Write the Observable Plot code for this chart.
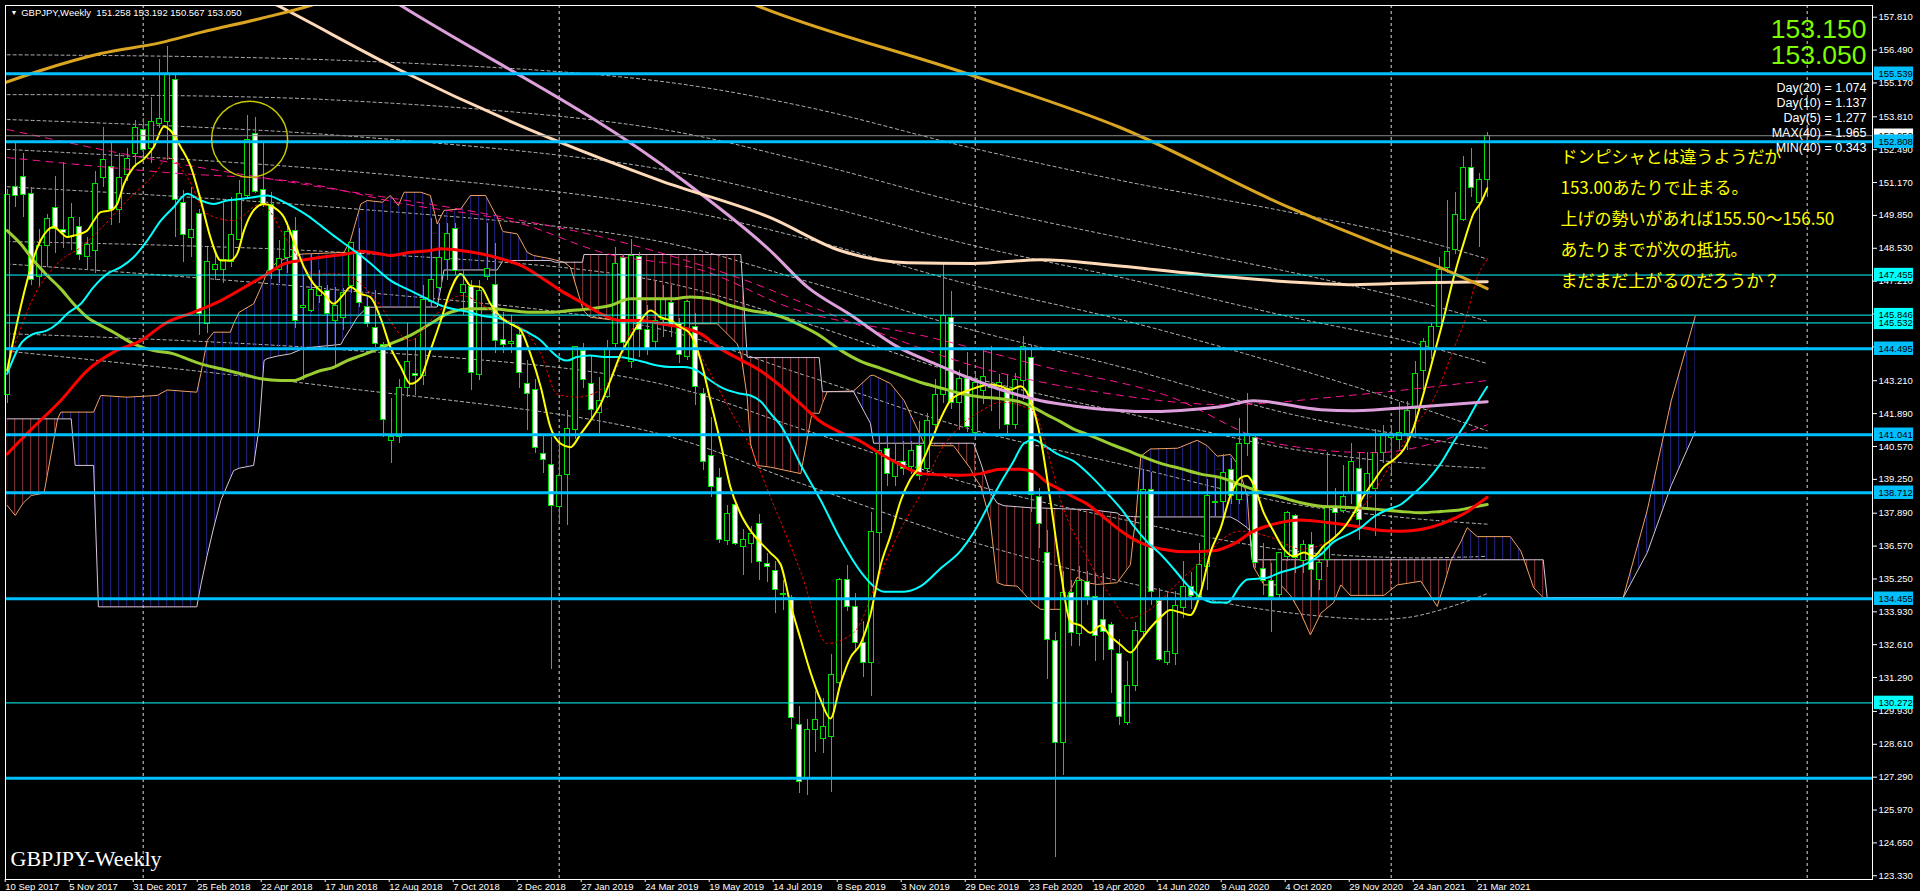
<!DOCTYPE html>
<html><head><meta charset="utf-8">
<script src="https://cdn.jsdelivr.net/npm/d3@7"></script>
<script src="https://cdn.jsdelivr.net/npm/@observablehq/plot@0.6"></script>
<style>html,body{margin:0;padding:0;background:#000;overflow:hidden}</style>
</head><body><div id="chart"></div>
<script>
// ---------- DATA (weekly GBPJPY, bar index 0 = week of 10 Sep 2017) ----------
const opens = [142.62,151.01,151.41,150.69,147.37,148.61,150.15,149.27,148.98,149.38,
148.17,148.41,151.36,151.81,150.05,151.49,152.32,153.26,152.50,153.53,
153.59,155.29,150.35,148.95,149.89,145.47,147.64,147.64,147.97,148.88,
150.62,153.12,150.88,150.25,147.66,148.15,149.22,146.15,146.00,146.62,
146.81,145.60,145.74,147.01,148.37,146.16,145.34,144.63,140.78,140.94,
142.93,143.50,143.42,146.37,146.94,148.07,149.31,146.74,146.99,143.46,
147.37,147.06,144.85,144.70,145.05,143.09,142.85,140.27,139.83,138.13,
139.43,141.24,144.40,143.09,141.91,142.55,144.67,148.15,143.96,148.17,
145.25,144.76,145.66,146.33,145.47,144.16,145.36,142.66,140.20,139.31,
136.77,138.20,136.53,136.66,137.46,135.85,135.58,134.65,134.50,129.39,
127.21,129.19,128.82,128.91,131.08,135.22,134.13,132.69,131.87,137.11,
140.48,139.33,139.95,139.76,140.58,139.66,141.44,142.63,145.74,142.30,
143.27,141.13,142.78,143.03,142.85,142.87,141.44,143.20,144.14,138.54,
136.28,132.74,128.68,134.67,133.02,135.13,134.53,133.60,133.41,132.23,
129.48,130.97,133.10,138.82,134.37,131.89,132.22,134.08,134.94,134.52,
135.73,138.30,138.34,139.63,138.43,140.68,140.93,135.66,135.16,134.61,
136.13,137.77,135.99,136.62,135.19,136.02,138.10,137.99,138.74,139.68,
138.74,138.88,140.32,140.92,140.82,141.07,142.07,143.62,144.51,145.37,
147.75,148.47,149.67,151.75,150.36,151.258];
const highs = [150.90,152.79,152.32,150.98,149.27,149.89,151.41,151.99,150.31,149.78,
148.98,151.60,153.39,152.72,152.32,152.52,153.66,153.73,154.60,156.11,
156.65,155.54,150.85,150.98,150.07,148.57,148.31,150.31,150.58,151.25,
153.86,153.77,152.72,150.78,148.84,149.58,149.78,147.44,148.31,147.64,
147.04,146.97,146.90,148.77,149.31,146.57,146.83,144.76,142.48,143.25,
145.50,144.89,147.03,149.71,149.51,149.51,149.54,147.64,147.24,147.24,
149.51,148.71,145.96,145.83,145.30,144.02,143.25,140.97,140.94,140.94,
142.02,144.59,144.69,144.22,143.35,144.83,148.58,148.30,148.87,148.37,
146.23,147.24,147.03,147.03,145.70,146.43,145.90,142.89,141.75,139.67,
138.20,138.20,137.22,137.36,137.82,136.29,135.96,135.20,134.60,130.11,
129.61,130.73,130.44,132.20,135.25,135.79,134.67,133.55,137.90,140.98,
140.98,140.70,140.77,140.77,141.58,141.90,143.25,147.94,146.79,143.63,
144.35,143.56,144.45,144.60,143.45,143.42,143.49,145.00,144.64,138.90,
137.18,133.10,135.53,135.17,135.74,135.53,135.46,135.46,133.52,132.80,
131.95,133.52,139.60,139.53,134.87,134.76,134.73,135.95,135.52,136.66,
139.25,139.32,140.25,140.10,141.68,142.69,141.01,136.66,135.88,136.31,
137.96,137.85,136.81,137.10,136.05,140.32,138.90,139.82,140.68,140.32,
140.32,141.25,141.40,141.32,142.33,142.36,143.98,144.91,145.51,148.14,
150.43,150.79,152.23,152.54,151.54,153.192];
const lows = [142.30,150.18,149.78,147.04,146.97,147.77,148.31,148.53,148.44,148.04,
147.64,147.50,150.98,149.44,149.54,151.20,151.79,152.26,151.92,153.33,
152.05,148.98,147.97,148.17,145.03,145.09,147.24,147.10,147.77,148.84,
150.58,150.72,150.18,147.26,147.10,147.50,145.29,143.22,145.96,146.30,
144.42,143.75,145.23,146.70,146.16,145.34,144.56,140.94,139.90,140.68,
142.55,142.62,143.02,146.16,146.84,147.24,147.44,145.83,142.82,143.22,
147.24,144.29,144.29,144.30,142.89,141.21,140.27,139.47,131.60,137.46,
137.40,140.84,142.89,141.61,141.08,142.48,144.56,144.56,143.69,144.16,
144.22,144.42,144.96,144.96,143.89,144.02,142.22,139.60,138.54,136.66,
136.59,136.59,135.39,135.86,135.19,135.10,133.88,134.00,129.22,126.64,
126.57,128.29,128.25,126.67,130.83,133.93,132.35,131.30,130.51,135.53,
138.95,138.95,139.40,139.43,139.19,139.48,141.27,142.30,142.06,141.20,
141.13,140.91,142.27,141.96,141.27,140.98,141.27,142.42,137.90,136.46,
131.23,124.05,127.36,132.52,132.52,134.20,131.95,131.98,130.66,129.37,
129.37,130.73,132.90,134.17,131.93,131.79,131.79,133.65,134.04,134.37,
134.80,137.74,137.77,138.24,138.24,140.18,135.66,134.58,133.08,134.44,
135.95,135.45,135.47,134.51,134.80,135.73,136.90,137.88,138.24,136.81,
138.03,136.95,139.89,139.46,140.39,140.39,141.04,142.83,144.05,145.34,
147.52,148.28,149.61,150.58,148.57,150.567];
const closes = [150.65,150.64,150.68,147.24,148.64,149.71,149.31,149.15,149.75,148.27,
148.68,151.12,152.09,150.05,151.36,152.12,153.37,152.48,153.59,153.73,
155.54,150.47,149.08,149.27,145.90,147.97,147.84,148.04,149.08,150.72,
152.86,150.78,150.31,147.61,148.11,149.19,145.60,146.22,146.86,146.99,
145.90,146.23,146.74,148.73,146.34,145.47,144.69,141.64,140.97,142.93,
143.96,143.42,146.46,147.26,148.15,149.11,147.61,147.06,143.51,146.83,
147.70,144.80,144.65,144.76,143.53,142.68,140.52,140.03,138.16,139.40,
141.28,144.56,143.22,142.04,142.39,144.49,147.91,144.72,148.20,145.23,
144.43,145.60,146.47,145.39,144.26,146.37,142.95,139.94,138.94,136.82,
137.84,136.66,136.82,137.06,135.95,135.72,134.79,134.60,129.68,127.10,
129.19,129.58,129.29,131.40,135.22,134.13,132.69,131.87,137.14,140.38,
139.48,139.95,139.66,140.38,139.40,141.58,142.63,145.82,142.30,143.30,
141.34,143.10,143.35,142.92,143.10,141.44,143.25,144.57,138.62,137.47,
132.78,128.65,134.67,133.09,135.17,134.53,132.95,133.10,132.40,129.72,
130.94,133.17,138.82,134.73,132.00,132.32,134.15,134.94,134.56,135.80,
138.59,138.35,139.49,138.57,140.68,141.07,135.88,135.16,134.51,136.28,
137.88,136.09,136.62,135.59,135.90,138.10,137.90,138.53,139.96,137.63,
139.46,140.32,141.07,141.04,141.11,142.01,143.50,144.77,145.37,147.64,
148.38,149.86,151.75,150.96,151.27,153.050];

// Moving averages: [bar index, price]
const maYellow = [[0,143.62],[1.67,146.16],[2.5,147.24],[3.33,148.17],[4.17,148.84],[5,149.24],[5.83,149.38],[6.67,149.18],[7.5,148.98],[8.33,149.04],[10,149.24],[10.83,149.64],[11.67,149.98],[12.9,150.05],[13.75,150.31],[14.6,151.12],[15.8,151.79],[17.1,152.12],[18.3,152.59],[19.6,153.42],[20.4,153.26],[21.7,152.59],[22.9,151.85],[24.2,150.45],[25.4,148.97],[26.7,148.04],[27.9,148.04],[28.75,148.31],[29.6,149.24],[30.8,150.05],[32.1,150.31],[33.3,150.18],[34.6,149.78],[35.8,148.84],[37.1,147.77],[38.3,147.10],[39.6,146.70],[40.8,146.30],[42.1,146.70],[42.9,146.97],[44.2,146.70],[45.4,146.57],[46.7,145.7],[47.9,144.56],[49.2,143.76],[50.4,143.09],[51.7,143.35],[52.9,144.43],[54.2,145.63],[55.4,146.83],[56.7,147.5],[57.9,147.03],[59.2,146.97],[60.4,146.3],[61.7,145.76],[62.9,145.5],[64.2,145.23],[65.4,144.29],[66.7,142.95],[67.9,141.35],[69.2,140.68],[70.4,140.54],[71.7,141.08],[72.9,141.61],[74.2,142.28],[75.4,143.22],[76.7,144.29],[77.9,144.96],[79.2,145.63],[80.4,146.03],[81.7,145.76],[82.9,145.63],[84.2,145.36],[85.4,145.09],[86.7,144.02],[87.9,142.42],[89.2,140.68],[90.4,138.94],[91.7,137.85],[92.9,137.2],[94.2,136.7],[95.4,136.3],[96.7,135.82],[97.9,134.24],[99.2,132.81],[100.4,131.51],[101.7,130.37],[102.9,129.65],[104.2,131.08],[105.4,132.09],[106.7,132.66],[107.9,133.81],[109.2,135.82],[110.4,136.97],[111.7,138.4],[112.9,139.26],[114.2,139.83],[115.4,140.7],[116.7,141.7],[117.9,142.42],[119.2,142.7],[120.4,142.85],[121.7,142.99],[122.9,143.06],[124.2,142.99],[125.4,142.85],[126.7,142.99],[127.9,142.42],[129.2,140.84],[130.4,138.4],[131.7,135.53],[132.9,133.52],[134.2,133.38],[135.4,133.09],[136.7,133.38],[137.9,132.95],[139.2,132.6],[140.4,132.3],[141.7,132.8],[142.9,133.29],[144.2,133.72],[145.4,134.0],[146.7,133.9],[147.9,133.8],[149.2,134.73],[150.4,136.31],[151.7,137.31],[152.9,138.6],[154.2,139.32],[155,139.39],[155.8,139.03],[157.1,137.88],[158.3,137.17],[159.6,136.45],[160.8,136.16],[162.1,136.31],[163.3,136.16],[164.6,136.59],[165.8,136.88],[167.1,137.31],[168.3,137.88],[169.6,138.6],[170.8,139.17],[172.1,139.75],[173.3,140.04],[174.6,140.47],[175.8,141.33],[177.1,142.76],[178.3,144.19],[179.6,145.77],[180.8,147.35],[182.1,148.78],[183.3,149.93],[184.2,150.36],[185,150.94]];
const maCyan = [[0,143.49],[1.7,144.69],[3.3,145.09],[5,145.23],[6.25,145.5],[7.5,145.9],[9.2,146.3],[10.8,146.97],[12.5,147.5],[14.2,147.77],[15.8,148.17],[17.5,148.84],[19.2,149.64],[20.8,150.18],[22.5,150.72],[24.2,150.45],[25.8,150.31],[27.5,150.45],[29.2,150.51],[30.8,150.58],[32.5,150.65],[34.2,150.45],[35.8,150.18],[37.5,149.85],[39.2,149.44],[40.8,149.04],[42.5,148.64],[44.2,148.24],[45.6,147.87],[47.9,147.24],[50.4,146.83],[52.9,146.43],[54.2,146.23],[56.7,146.03],[57.9,145.96],[59.2,145.83],[61.7,145.7],[62.9,145.5],[65.4,145.09],[66.7,144.83],[67.9,144.43],[69.2,144.09],[70,144.02],[71.2,144.16],[72.9,144.22],[74.6,144.16],[76.25,144.16],[77.9,144.09],[79.6,143.96],[81.25,143.82],[82.9,143.76],[84.6,143.76],[86.25,143.62],[87.9,143.22],[89.6,142.89],[91.5,142.7],[92.9,142.62],[94.2,142.38],[95.4,141.9],[96.7,141.41],[99.2,139.83],[101.7,138.4],[104.2,136.82],[106.7,135.53],[108.3,134.96],[109.6,134.74],[112.1,134.74],[114.2,134.96],[116.7,135.68],[119.2,136.39],[120.8,137.11],[122.5,138.11],[124.2,139.12],[125.8,139.98],[127.1,140.7],[128.3,140.84],[129.6,140.62],[131.25,140.27],[133.3,139.98],[135.4,139.4],[137.5,138.69],[139.4,138.0],[140.8,137.38],[142.5,136.74],[144.2,136.23],[145.8,135.66],[147.5,135.01],[149.2,134.51],[150.8,134.3],[152.5,134.3],[154.2,135.01],[155,135.23],[156.25,135.26],[157.5,135.3],[159.2,135.52],[160.8,135.66],[162.5,135.88],[164.2,136.23],[165.8,136.74],[167.5,137.02],[169.2,137.31],[170.8,137.74],[172.5,138.03],[174.2,138.24],[175.8,138.67],[177.5,139.2],[179.2,139.89],[180.8,140.75],[182.5,141.6],[183.75,142.33],[185,142.97]];
const maRed = [[0,140.27],[3.3,141.35],[6.7,142.42],[10,143.62],[13.3,144.36],[16.7,144.82],[20,145.56],[23.3,145.96],[26.7,146.43],[30,147.03],[32.5,147.5],[34.6,147.9],[36.7,148.04],[39.2,148.17],[42.5,148.31],[44.2,148.41],[46.7,148.3],[47.9,148.24],[50.4,148.37],[52.9,148.44],[54.2,148.51],[56.7,148.44],[59.2,148.31],[61.7,148.11],[64.2,147.84],[66.7,147.37],[69.2,146.83],[71.7,146.37],[74.2,145.9],[76.7,145.63],[79.2,145.63],[81.7,145.5],[84.2,145.36],[86.7,145.09],[89.2,144.49],[91.7,144.05],[94.2,143.6],[96.7,142.99],[99.2,142.27],[101.7,141.56],[104.2,141.13],[106.7,140.77],[109.2,140.27],[111.7,139.83],[114.2,139.48],[116.7,139.43],[119.2,139.41],[121.7,139.48],[124.2,139.66],[126.7,139.66],[128.3,139.55],[130,139.12],[131.7,138.83],[133.3,138.54],[135,138.26],[136.7,137.83],[138.3,137.4],[140,137.0],[141.7,136.7],[144.2,136.45],[147.5,136.34],[150.8,136.38],[153.3,136.66],[155.8,137.17],[158.3,137.45],[161.7,137.62],[165,137.52],[168.3,137.38],[171.7,137.2],[174.2,137.17],[176.7,137.24],[179.2,137.45],[180.8,137.67],[182.5,137.95],[183.75,138.24],[185,138.53]];
const maOlive = [[0,149.24],[1.7,148.7],[3.3,148.04],[5,147.44],[6.7,146.9],[8.3,146.3],[10,145.76],[11.7,145.43],[13.3,145.16],[15.8,144.69],[18.3,144.42],[20.8,144.29],[22.5,144.09],[24.2,143.89],[26.7,143.69],[29.2,143.49],[31.7,143.29],[34.2,143.22],[35.8,143.22],[37.5,143.42],[39.2,143.62],[40.8,143.75],[42.5,144.02],[44.2,144.22],[45.8,144.42],[47.9,144.69],[50.4,145.03],[52.9,145.5],[55.4,145.96],[57.9,146.1],[60.4,146.1],[62.9,146.03],[65.4,145.96],[67.9,145.96],[70.4,146.03],[72.9,146.1],[75.4,146.23],[77.9,146.5],[80.4,146.5],[82.9,146.5],[85.4,146.57],[87.9,146.5],[90.4,146.23],[92.9,146.03],[95.4,145.9],[96.7,145.79],[99.2,145.43],[101.7,145.0],[104.2,144.43],[106.7,143.99],[109.2,143.71],[111.7,143.42],[114.2,143.14],[116.7,142.92],[119.2,142.7],[121.7,142.56],[124.2,142.49],[126.7,142.35],[128.3,142.13],[130,141.84],[131.7,141.56],[133.3,141.27],[135,141.06],[136.7,140.84],[138.3,140.62],[140,140.41],[141.7,140.19],[144.2,139.89],[146.7,139.68],[149.2,139.46],[151.7,139.32],[154.2,139.03],[156.7,138.74],[159.2,138.53],[161.7,138.31],[164.2,138.17],[166.7,138.14],[169.2,138.1],[171.7,138.03],[174.2,137.96],[176.7,137.91],[179.2,137.96],[181.7,138.03],[183.3,138.14],[185,138.24]];
const maRedDot = [[0.4,144.16],[3.3,146.57],[6.7,148.04],[9.2,148.57],[11.25,149.18],[15,150.45],[18.75,151.65],[20,152.19],[22.5,151.39],[25,149.91],[28.3,149.64],[31.7,150.31],[35,148.84],[38.3,147.5],[41.25,147.5],[44.2,147.1],[45.8,146.57],[50.4,144.83],[52.9,145.63],[56.7,146.63],[61.7,145.76],[64.2,145.36],[66.7,144.29],[68.75,142.68],[71.25,142.55],[74.6,142.95],[76.25,143.76],[78.3,145.36],[80.8,145.76],[82.9,145.63],[85.4,144.96],[87.9,143.49],[90.4,142.02],[92.9,140.54],[95.4,138.54],[96.7,137.54],[99.2,135.53],[102.5,132.66],[105.8,133.09],[109.2,135.53],[111.7,137.25],[114.2,138.69],[116.7,140.41],[119.2,141.41],[121.7,141.99],[124.2,142.35],[128.3,141.99],[130,140.41],[131.7,138.4],[135,136.1],[138.3,134.38],[140,133.67],[141.7,133.81],[147.5,135.45],[154.2,137.17],[158.3,136.88],[161.7,136.45],[165,136.74],[168.3,137.74],[170.8,138.74],[173.3,140.04],[175.8,141.33],[178.3,142.47],[180.8,144.48],[182.5,145.92],[183.75,147.35],[185,148.07]];
const maPlum = [[46.7,158.78],[49.2,158.28],[84.5,151.25],[95.4,148.43],[100,146.98],[105.4,145.86],[111.3,144.57],[116.3,143.85],[120.8,143.25],[125,142.77],[129.2,142.41],[133.3,142.2],[137.5,142.05],[141.7,141.97],[151.7,142.17],[155.8,142.41],[164.2,142.05],[168.3,142.01],[176.7,142.17],[185,142.37]];
const maPeach = [[30,158.9],[33.8,158.28],[49.2,155.67],[68,152.93],[81.7,151.24],[95.4,149.76],[104.2,148.43],[112.5,147.95],[120.8,147.92],[129.2,148.07],[137.5,147.87],[149.5,147.47],[160,147.19],[168.3,147.07],[176.7,147.15],[185,147.19]];
const maGold = [[-1,155.1],[4.2,155.67],[11.7,156.35],[19.2,156.79],[24.2,157.2],[31.7,157.76],[37.9,158.28],[40,158.5],[92,158.5],[94,158.24],[120,155.54],[139.2,153.37],[160,150.2],[172.5,148.55],[178.8,147.79],[185,146.91]];
const envPinkUpper = [[0,153.3],[14.4,152.33],[37.4,151.08],[60.4,149.88],[75.7,148.87],[91,147.39],[106.3,145.46],[121.7,143.73],[136.9,142.73],[152.3,142.25],[167.5,142.61],[185,143.22]];
const envPinkLower = [[0,152.17],[20,151.57],[36.7,151.17],[49.5,150.32],[64.2,149.52],[74.5,148.35],[87,147.63],[97.9,146.14],[115,144.98],[129.2,143.81],[145,142.61],[158.8,140.68],[170.8,140.32],[185,141.44]];

// Grey dotted bands: [bar index, price]
const band1 = [[0,156.3],[40,156.1],[80,155.3],[100,154.2],[120,152.6],[140,151.2],[160,150.0],[175,149.0],[185,148.1]];
const band2 = [[0,154.7],[40,154.5],[80,153.4],[100,152.0],[120,150.3],[140,148.9],[160,147.6],[175,146.5],[185,145.6]];
const band3 = [[0,153.7],[40,153.1],[80,151.8],[100,150.4],[120,148.7],[140,147.3],[160,145.8],[175,144.8],[185,143.9]];
const band4 = [[0,152.5],[40,151.7],[80,150.3],[100,148.9],[120,147.1],[140,145.6],[160,143.8],[175,142.3],[185,141.2]];
const band5 = [[0,151.0],[40,150.2],[80,148.9],[100,147.2],[120,145.3],[140,143.7],[160,141.9],[175,141.0],[185,140.5]];
const band6 = [[0,148.8],[40,148.4],[80,147.3],[100,145.5],[120,143.4],[140,141.9],[160,140.5],[175,139.9],[185,139.7]];
const band7 = [[0,147.9],[40,146.9],[80,145.4],[100,143.4],[120,141.3],[140,139.8],[160,138.3],[175,137.7],[185,137.45]];
const band8 = [[0,145.1],[40,144.5],[80,143.2],[100,141.2],[120,139.1],[140,137.6],[160,136.4],[175,136.1],[185,136.16]];
const band9 = [[0,144.4],[40,143.0],[80,141.2],[100,139.0],[120,136.8],[140,135.1],[160,133.9],[175,133.7],[185,134.66]];

// Ichimoku cloud rows: [bar index, senkou span A, senkou span B]
const ichimoku = [
[0,138.2,141.68],[1,137.8,141.68],[2,138.3,141.68],[3,138.6,141.68],[4.6,138.7,141.68],[5.8,140.81,141.68],[6.3,141.68,141.68],[6.7,141.95,141.68],[8,141.95,141.68],[8.5,141.95,139.81],
[10.8,141.95,139.81],[11.4,142.4,134.13],[11.7,142.62,134.13],[15,142.55,134.13],[18.75,142.62,134.13],[20,142.84,134.13],[23.7,142.75,134.13],[24.2,143.49,135.0],[25,144.83,136.2],[25.8,145.16,137.3],
[26.7,145.16,138.4],[27.9,145.16,139.3],[28.3,145.5,139.6],[29,145.96,139.7],[30.8,146.3,139.81],[31.5,146.8,141.35],[32.1,147.24,144.02],[32.5,147.64,144.1],[33.75,147.97,144.2],[35.4,148.2,144.29],
[36.9,148.3,144.49],[37.9,148.31,144.55],[41.7,148.36,144.67],[42.1,148.37,144.9],[42.9,148.84,145.3],[43.75,149.8,145.76],[44.2,150.31,145.9],[45,150.45,146.16],[46.9,150.38,146.17],[47.9,150.65,146.17],
[48.9,150.25,146.17],[49.6,150.78,146.17],[51.7,150.78,146.17],[52.9,150.65,146.17],[53.75,149.51,146.17],[54.6,150.05,147.66],[56.7,150.11,147.66],[57.9,150.65,147.66],[59.8,150.65,147.66],[61,149.91,147.66],
[61.25,149.8,147.66],[61.9,149.24,148.0],[62,149.2,148.04],[63.75,149.11,148.04],[65,148.37,148.04],[65.8,148.24,148.04],[67.9,148.11,148.04],[68.5,148.06,147.97],[69.6,147.97,147.97],[70.4,147.77,147.97],
[71.9,146.16,147.97],[72.1,146.0,148.28],[72.9,145.76,148.28],[76.25,145.63,148.28],[85.4,145.5,148.28],[88.75,145.5,148.28],[91.25,144.69,148.28],[91.7,144.3,148.28],[92.5,142.55,144.16],[92.9,140.68,144.14],
[93.75,139.81,144.14],[95.4,139.74,144.14],[99.2,139.48,144.14],[100.6,141.91,144.14],[101.5,141.9,144.14],[101.9,142.3,142.77],[102.5,142.77,142.77],[105.8,142.8,142.77],[107.9,143.42,141.5],[108.3,143.43,140.7],
[110.4,143.1,140.7],[112.1,142.42,140.7],[114.2,140.98,140.7],[114.6,140.7,140.7],[115.8,140.6,140.7],[118.3,140.6,140.7],[120.4,139.69,140.7],[120.8,139.4,140.7],[121.7,138.97,139.9],[122.9,137.54,138.7],
[123.75,135.1,138.3],[124.6,135.0,138.19],[126.25,134.96,138.15],[128.3,134.24,138.1],[129.2,134.03,138.1],[131.7,134.03,138.07],[133.75,135.32,138.05],[135,135.1,138.04],[136.25,135.03,138.0],[138.75,135.1,137.9],
[139.2,135.3,137.8],[140.4,135.82,137.76],[140.8,137.02,137.75],[141.1,137.75,137.75],[141.7,140.18,137.74],[142.9,140.47,137.74],[146.3,140.5,137.74],[148.75,140.82,137.74],[150,140.6,137.74],[151.25,140.18,137.74],
[152.9,140.25,137.74],[153.75,139.89,137.6],[155,138.6,137.31],[155.3,137.2,137.2],[155.6,136.5,136.02],[155.8,135.73,136.02],[157.1,135.01,136.02],[159.2,135.01,136.02],[160.4,134.59,136.02],[161.7,133.87,136.02],
[162.9,133.0,136.02],[164.2,133.87,136.02],[165.8,134.3,136.02],[166.7,135.01,136.02],[167.9,134.59,136.02],[172.1,134.59,136.02],[173.75,135.01,136.02],[176.7,135.16,136.02],[178.75,134.15,136.02],[179.6,135.01,136.02],
[180.5,136.02,136.02],[180.8,136.2,136.02],[181.7,136.74,136.02],[182.5,137.31,136.02],[183.75,136.95,136.02],[187.9,136.95,136.02],[189.2,136.37,136.02],[189.6,136.02,136.02],[190.8,134.9,136.02],[192,134.5,136.02],
[192.5,134.5,134.5],[202,134.5,134.5],[205,138.0,136.3],[208,142.4,139.0],[211,145.8,141.17]
];

// Horizontal levels
const thickLevels = [155.539, 152.808, 144.495, 141.041, 138.712, 134.455];
const thickUnlabeled = [127.25];
const thinLevels = [147.455, 145.846, 145.532, 130.272];
const bidPrice = 153.050, askPrice = 153.150;

// Axis ticks
const priceTicks = [157.81,156.49,155.17,153.81,152.49,151.17,149.85,148.53,147.21,145.89,144.57,143.21,141.89,140.57,139.25,137.89,136.57,135.25,133.93,132.61,131.29,129.93,128.61,127.29,125.97,124.65,123.33];
const dateTickBars = [0,8,16,24,32,40,48,56,64,72,80,88,96,104,112,120,128,136,144,152,160,168,176,184];
const dateLabels = ["10 Sep 2017","5 Nov 2017","31 Dec 2017","25 Feb 2018","22 Apr 2018","17 Jun 2018","12 Aug 2018","7 Oct 2018","2 Dec 2018","27 Jan 2019","24 Mar 2019","19 May 2019","14 Jul 2019","8 Sep 2019","3 Nov 2019","29 Dec 2019","23 Feb 2020","19 Apr 2020","14 Jun 2020","9 Aug 2020","4 Oct 2020","29 Nov 2020","24 Jan 2021","21 Mar 2021"];
const gridBars = [17, 69, 121, 173, 225];

// Texts
const symbolTitle = "GBPJPY,Weekly";
const statNames = ["Day(20)","Day(10)","Day(5)","MAX(40)","MIN(40)"];
const statValues = [1.074, 1.137, 1.277, 1.965, 0.343];
const commentLines = ["ドンピシャとは違うようだが","153.00あたりで止まる。","上げの勢いがあれば155.50～156.50","あたりまでが次の抵抗。","まだまだ上がるのだろうか？"];
const chartName = "GBPJPY-Weekly";
const circleMark = {i: 30.3, p: 152.91};

// ---------- BUILD ----------
const candles = opens.map((o, i) => ({i, o, h: highs[i], l: lows[i], c: closes[i]}));
const pts = a => a.map(([i, p]) => ({i, p}));
const cloud = ichimoku.map(([i, a, b]) => ({i, a, b}));
const last = candles[candles.length - 1];
const GREEN = "#00E000";
const labelMap = new Map(dateTickBars.map((b, k) => [b - 0.25, dateLabels[k]]));

const line = (data, stroke, w, extra = {}) => Plot.line(pts(data), {x: "i", y: "p", stroke, strokeWidth: w, curve: "monotone-x", clip: true, ...extra});

const marks = [
  Plot.ruleX(gridBars, {x: d => d, stroke: "#d8d8d8", strokeDasharray: "3,3", strokeWidth: 1}),
  // grey dotted bands
  ...[band1, band2, band3, band4, band5, band6, band7, band8, band9].map(b => line(b, "#b8b8b8", 1, {strokeDasharray: "3,3", curve: "catmull-rom"})),
  // Ichimoku cloud
  Plot.areaY(cloud, {x: "i", y1: "b", y2: d => Math.max(d.a, d.b), fill: "url(#hatchBlue)", curve: "linear"}),
  Plot.areaY(cloud, {x: "i", y1: "b", y2: d => Math.min(d.a, d.b), fill: "url(#hatchRed)", curve: "linear"}),
  Plot.line(cloud, {x: "i", y: "a", stroke: "#F0A060", strokeWidth: 1}),
  Plot.line(cloud, {x: "i", y: "b", stroke: "#D8C4DC", strokeWidth: 1}),
  // candles
  Plot.ruleX(candles, {x: "i", y1: "l", y2: "h", stroke: GREEN, strokeWidth: 1, shapeRendering: "crispEdges"}),
  Plot.rect(candles, {x1: d => d.i - 0.32, x2: d => d.i + 0.32, y1: "o", y2: "c",
    fill: d => d.c >= d.o ? "#000000" : "#ffffff", stroke: GREEN, strokeWidth: 1, shapeRendering: "crispEdges"}),
  // moving averages and envelopes
  line(envPinkUpper, "#FF1493", 1, {strokeDasharray: "7,6"}),
  line(envPinkLower, "#FF1493", 1, {strokeDasharray: "7,6"}),
  line(maOlive, "#9ACD32", 3),
  line(maRed, "#FF0000", 3),
  line(maCyan, "#00FFFF", 2),
  line(maRedDot, "#FF0000", 1, {strokeDasharray: "2,3"}),
  line(maYellow, "#FFFF00", 2),
  line(maPlum, "#DDA0DD", 3),
  line(maPeach, "#FFDAB9", 3),
  line(maGold, "#DAA520", 3),
  // horizontal levels
  Plot.ruleY([bidPrice], {y: d => d, stroke: "#8a8a8a", strokeWidth: 1}),
  Plot.ruleY(thinLevels, {y: d => d, stroke: "#00FFFF", strokeWidth: 1}),
  Plot.ruleY([...thickLevels, ...thickUnlabeled], {y: d => d, stroke: "#00BFFF", strokeWidth: 3}),
  // annotation circle
  Plot.dot([circleMark], {x: "i", y: "p", r: 38, stroke: "#C8C800", strokeWidth: 1.5, fill: "none"}),
  // axes
  Plot.axisY(priceTicks, {anchor: "right", tickSize: 4, tickPadding: 2, tickFormat: d => d.toFixed(3), fontSize: 9.5, label: null}),
  Plot.axisX([...labelMap.keys()], {anchor: "bottom", tickSize: 3, tickPadding: 1, tickFormat: d => labelMap.get(d), textAnchor: "start", fontSize: 9.5, label: null}),
  // price label boxes
  Plot.rect([bidPrice], {x1: 233.4, x2: 238.3, y1: d => d - 0.27, y2: d => d + 0.27, fill: "#ffffff"}),
  Plot.text([bidPrice], {x: 233.9, y: d => d, text: d => d.toFixed(3), textAnchor: "start", fill: "#000", fontSize: 9.5}),
  Plot.rect(thinLevels, {x1: 233.4, x2: 238.3, y1: d => d - 0.27, y2: d => d + 0.27, fill: "#00FFFF"}),
  Plot.rect(thickLevels, {x1: 233.4, x2: 238.3, y1: d => d - 0.27, y2: d => d + 0.27, fill: "#00BFFF"}),
  Plot.text([...thinLevels, ...thickLevels], {x: 233.9, y: d => d, text: d => d.toFixed(3), textAnchor: "start", fill: "#000", fontSize: 9.5}),
  // header texts
  Plot.text(["▼"], {frameAnchor: "top-left", dx: 5, dy: 7.5, lineAnchor: "middle", fill: "#fff", fontSize: 7, textAnchor: "start"}),
  Plot.text([`${symbolTitle}  ${last.o.toFixed(3)} ${last.h.toFixed(3)} ${last.l.toFixed(3)} ${last.c.toFixed(3)}`],
    {frameAnchor: "top-left", dx: 15.7, dy: 7.7, lineAnchor: "middle", fill: "#fff", fontSize: 9.5, textAnchor: "start"}),
  Plot.text([askPrice.toFixed(3)], {frameAnchor: "top-right", dx: -6, dy: 24, lineAnchor: "middle", fill: "#7CFC00", fontSize: 26.5, textAnchor: "end"}),
  Plot.text([bidPrice.toFixed(3)], {frameAnchor: "top-right", dx: -6, dy: 50.5, lineAnchor: "middle", fill: "#7CFC00", fontSize: 26.5, textAnchor: "end"}),
  ...statNames.map((n, k) => Plot.text([`${n} = ${statValues[k].toFixed(3)}`],
    {frameAnchor: "top-right", dx: -6, dy: 77.7 + k * 15.1, fill: "#fff", fontSize: 12.5, textAnchor: "end"})),
  ...commentLines.map((s, k) => Plot.text([s],
    {frameAnchor: "top-left", dx: 1555, dy: 152 + k * 31, lineAnchor: "middle", fill: "#FFFF00", fontSize: 17, textAnchor: "start", fontFamily: "'Noto Sans CJK JP', sans-serif"})),
  Plot.text([chartName], {frameAnchor: "bottom-left", dx: 5, dy: -21, lineAnchor: "middle", fill: "#fff", fontSize: 22, textAnchor: "start", fontFamily: "'Liberation Serif', serif"}),
  Plot.frame({stroke: "#ffffff"})
];

const chart = Plot.plot({
  width: 1920, height: 891,
  marginLeft: 5, marginRight: 48, marginTop: 5, marginBottom: 12,
  x: {type: "linear", domain: [-0.2125, 233.1625]},
  y: {type: "linear", domain: [123.18, 158.28]},
  color: {type: "identity"},
  style: {background: "#000", color: "#fff", fontFamily: "'Liberation Sans', Arial, sans-serif", fontSize: "9.5px", overflow: "visible"},
  marks
});

// hatch patterns for the cloud (vertical line per bar, 8px pitch)
const defs = d3.select(chart).insert("defs", ":first-child");
[["hatchBlue", "#26268F"], ["hatchRed", "#8E3A3A"]].forEach(([id, col]) => {
  const p = defs.append("pattern").attr("id", id).attr("patternUnits", "userSpaceOnUse")
    .attr("width", 8).attr("height", 8).attr("x", 6.2).attr("y", 0);
  p.append("rect").attr("x", 0).attr("y", 0).attr("width", 1).attr("height", 8).attr("fill", col);
});
document.getElementById("chart").appendChild(chart);
</script>
</body></html>
